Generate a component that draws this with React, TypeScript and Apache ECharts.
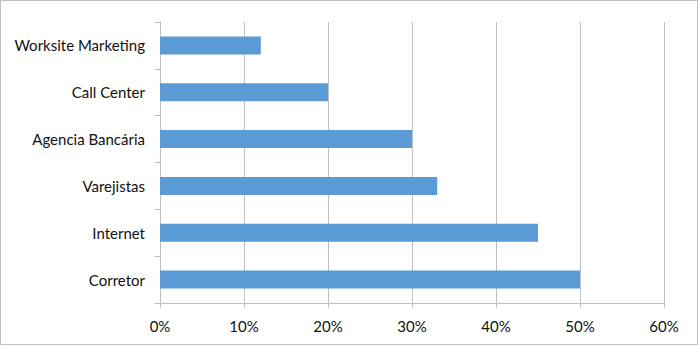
import React, { useEffect, useRef } from "react";
import * as echarts from "echarts";

const categories = ["Corretor", "Internet", "Varejistas", "Agencia Bancária", "Call Center", "Worksite Marketing"];
const values = [50, 45, 33, 30, 20, 12];
const xTicks = [0, 10, 20, 30, 40, 50, 60];

export default function App() {
  const ref = useRef<HTMLDivElement>(null);
  useEffect(() => {
    document.body.style.margin = "0";
    const chart = echarts.init(ref.current!, null, { renderer: "svg" });
    const font = "Lato";
    chart.setOption({
      animation: false,
      backgroundColor: "#fff",
      graphic: [
        {
          type: "rect",
          shape: { x: 0.5, y: 0.5, width: 697, height: 344 },
          style: { fill: "none", stroke: "#BFBFBF", lineWidth: 1 },
          silent: true,
        },
      ],
      grid: { left: 160, right: 36, top: 22, bottom: 43, containLabel: false },
      xAxis: {
        type: "value",
        min: xTicks[0],
        max: xTicks[xTicks.length - 1],
        interval: 10,
        axisLine: { show: true, lineStyle: { color: "#BFBFBF" } },
        axisTick: { show: true, length: 5, lineStyle: { color: "#BFBFBF" } },
        splitLine: { show: true, lineStyle: { color: "#BFBFBF" } },
        axisLabel: { formatter: "{value}%", color: "#111", fontFamily: font, fontSize: 15, margin: 15 },
      },
      yAxis: {
        type: "category",
        data: categories,
        axisLine: { show: true, lineStyle: { color: "#BFBFBF" } },
        axisTick: { show: true, length: 5, lineStyle: { color: "#BFBFBF" } },
        splitLine: { show: false },
        axisLabel: { color: "#111", fontFamily: font, fontSize: 15, margin: 15 },
      },
      series: [
        {
          type: "bar",
          data: values,
          barWidth: 18,
          itemStyle: { color: "#5B9BD5" },
        },
      ],
    });
    return () => chart.dispose();
  }, []);
  return <div ref={ref} style={{ width: 700, height: 346 }} />;
}
